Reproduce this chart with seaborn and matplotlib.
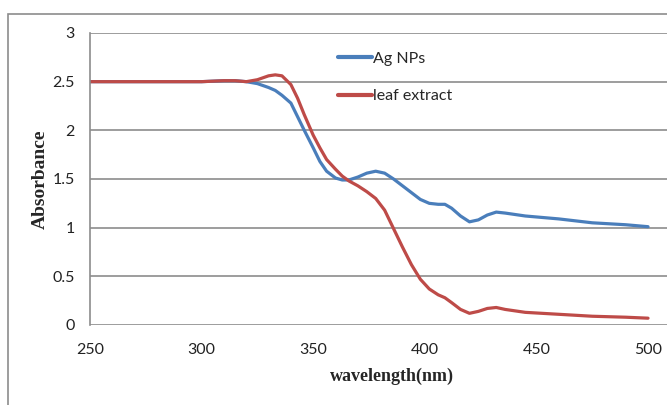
import pandas as pd
import matplotlib.pyplot as plt
import seaborn as sns
from matplotlib.patches import Rectangle

# Datos
wavelength = [250, 270, 290, 300, 310, 315, 320, 325, 330, 333, 336, 340, 343, 346,
              350, 353, 356, 360, 363, 366, 370, 374, 378, 382, 386, 390, 394, 398,
              402, 406, 409, 412, 416, 420, 424, 428, 432, 436, 445, 460, 475, 490, 500]
ag_nps = [2.50, 2.50, 2.50, 2.50, 2.51, 2.51, 2.50, 2.48, 2.44, 2.41, 2.36, 2.28, 2.14, 2.00,
          1.82, 1.68, 1.58, 1.51, 1.49, 1.49, 1.52, 1.56, 1.58, 1.56, 1.50, 1.43, 1.36, 1.29,
          1.25, 1.24, 1.24, 1.20, 1.12, 1.06, 1.08, 1.13, 1.16, 1.15, 1.12, 1.09, 1.05, 1.03, 1.01]
leaf_extract = [2.50, 2.50, 2.50, 2.50, 2.51, 2.51, 2.50, 2.52, 2.56, 2.57, 2.56, 2.47, 2.33, 2.16,
                1.95, 1.82, 1.70, 1.60, 1.53, 1.48, 1.43, 1.37, 1.30, 1.18, 0.99, 0.80, 0.62, 0.47,
                0.37, 0.31, 0.28, 0.23, 0.16, 0.12, 0.14, 0.17, 0.18, 0.16, 0.13, 0.11, 0.09, 0.08, 0.07]
series_names = ['Ag NPs', 'leaf extract']
x_ticks = [250, 300, 350, 400, 450, 500]
y_ticks = [0, 0.5, 1, 1.5, 2, 2.5, 3]
y_tick_labels = ['0', '0.5', '1', '1.5', '2', '2.5', '3']

df = pd.concat([
    pd.DataFrame({'wavelength': wavelength, 'abs': ag_nps, 'serie': series_names[0]}),
    pd.DataFrame({'wavelength': wavelength, 'abs': leaf_extract, 'serie': series_names[1]}),
])

sns.set_style('white')
plt.rcParams['font.family'] = ['Lato', 'DejaVu Sans']

fig = plt.figure(figsize=(6.67, 4.05), dpi=100)
ax = fig.add_axes([90 / 667, 1 - 325 / 405, 1 - 90 / 667, 292 / 405])

sns.lineplot(data=df, x='wavelength', y='abs', hue='serie',
             palette=['#4A7EBB', '#BE4B48'], linewidth=2.3, ax=ax, legend=True)

ax.set_xlim(250, 508.5)
ax.set_ylim(0, 3)
ax.set_xticks(x_ticks)
ax.set_xticklabels([str(t) for t in x_ticks])
ax.set_yticks(y_ticks)
ax.set_yticklabels(y_tick_labels)
ax.tick_params(axis='both', length=0, labelsize=11.5, colors='#222222')
ax.tick_params(axis='x', pad=13)
ax.tick_params(axis='y', pad=11)
ax.yaxis.grid(True, color='#8c8c8c', linewidth=1.2)
ax.set_axisbelow(True)
for s in ['top', 'right', 'bottom']:
    ax.spines[s].set_visible(False)
ax.spines['left'].set_color('#8c8c8c')
ax.spines['left'].set_linewidth(1.2)

ax.set_xlabel('wavelength(nm)', fontsize=13, fontweight='bold', family='Liberation Serif')
ax.set_ylabel('Absorbance', fontsize=14, fontweight='bold', family='Liberation Serif')
ax.xaxis.set_label_coords(0.523, -0.145)
ax.yaxis.set_label_coords(-0.071, 0.5)

leg = ax.legend(loc='upper left', bbox_to_anchor=(0.405, 0.985), frameon=False,
                fontsize=11.5, handlelength=2.1, handletextpad=0.1, labelspacing=1.45)
for line in leg.get_lines():
    line.set_linewidth(3)

# marco exterior
fig.patches.append(Rectangle((8 / 667, -0.05), 1.2, 1 - 14 / 405 + 0.05,
                             transform=fig.transFigure, fill=False,
                             edgecolor='#8c8c8c', linewidth=1.2))

fig.savefig('out.png', dpi=100)
